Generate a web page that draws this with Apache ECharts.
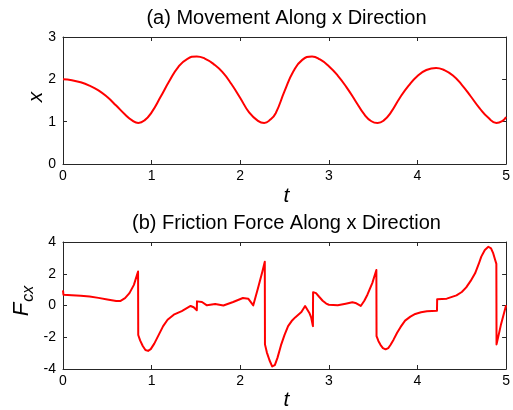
<!DOCTYPE html>
<html><head><meta charset="utf-8">
<script src="https://cdn.jsdelivr.net/npm/echarts@6/dist/echarts.min.js"></script>
<style>html,body{margin:0;padding:0;background:#fff}#c{width:513px;height:410px}</style>
</head><body><div id="c"></div>
<script>
// (a) displacement x vs time
const tTop = [0, 0.1, 0.2, 0.3, 0.4, 0.5, 0.6, 0.7, 0.78, 0.85, 0.92, 1.0, 1.1, 1.2, 1.3, 1.4, 1.51, 1.6, 1.7, 1.8, 1.9, 2.0, 2.1, 2.2, 2.27, 2.34, 2.4, 2.5, 2.6, 2.7, 2.81, 2.9, 3.0, 3.1, 3.2, 3.3, 3.4, 3.48, 3.55, 3.62, 3.7, 3.8, 3.9, 4.0, 4.1, 4.21, 4.3, 4.4, 4.5, 4.6, 4.7, 4.8, 4.89, 4.96, 5.0];
const xTop = [2.00, 1.98, 1.93, 1.85, 1.74, 1.58, 1.38, 1.17, 1.03, 0.97, 1.03, 1.22, 1.58, 1.96, 2.29, 2.48, 2.54, 2.49, 2.36, 2.17, 1.89, 1.56, 1.22, 1.02, 0.97, 1.05, 1.20, 1.72, 2.19, 2.46, 2.54, 2.47, 2.31, 2.09, 1.81, 1.49, 1.17, 1.01, 0.97, 1.03, 1.22, 1.56, 1.85, 2.08, 2.22, 2.27, 2.22, 2.09, 1.87, 1.60, 1.32, 1.09, 0.97, 1.02, 1.11];
// (b) friction force Fcx vs time
const tBot = [0, 0.005, 0.1, 0.2, 0.3, 0.4, 0.5, 0.6, 0.65, 0.7, 0.75, 0.8, 0.847, 0.849, 0.87, 0.9, 0.93, 0.96, 0.99, 1.03, 1.08, 1.13, 1.18, 1.25, 1.34, 1.44, 1.475, 1.51, 1.512, 1.568, 1.624, 1.717, 1.81, 1.92, 2.03, 2.09, 2.147, 2.2, 2.25, 2.277, 2.279, 2.30, 2.33, 2.36, 2.39, 2.42, 2.46, 2.50, 2.54, 2.58, 2.62, 2.69, 2.732, 2.78, 2.80, 2.82, 2.822, 2.855, 2.89, 2.93, 2.97, 3.0, 3.10, 3.19, 3.265, 3.30, 3.36, 3.40, 3.435, 3.49, 3.536, 3.538, 3.56, 3.584, 3.61, 3.64, 3.67, 3.695, 3.73, 3.77, 3.81, 3.86, 3.92, 3.975, 4.04, 4.106, 4.22, 4.222, 4.33, 4.44, 4.50, 4.55, 4.60, 4.65, 4.69, 4.72, 4.76, 4.80, 4.83, 4.855, 4.875, 4.89, 4.892, 4.94, 5.0];
const fBot = [0.95, 0.68, 0.65, 0.61, 0.56, 0.48, 0.38, 0.29, 0.29, 0.46, 0.78, 1.30, 2.14, -1.86, -2.20, -2.55, -2.80, -2.86, -2.75, -2.40, -1.85, -1.30, -0.90, -0.58, -0.35, -0.03, -0.11, -0.30, 0.26, 0.22, 0.01, 0.09, 0.0, 0.22, 0.47, 0.43, 0.01, 1.09, 2.14, 2.76, -2.45, -2.95, -3.45, -3.84, -3.75, -3.30, -2.50, -1.85, -1.30, -0.98, -0.75, -0.41, -0.03, -0.47, -0.75, -1.30, 0.84, 0.78, 0.55, 0.30, 0.12, 0.05, 0.01, 0.11, 0.20, 0.16, -0.03, 0.30, 0.68, 1.41, 2.24, -1.93, -2.25, -2.49, -2.68, -2.76, -2.68, -2.49, -2.15, -1.72, -1.35, -0.95, -0.70, -0.53, -0.43, -0.36, -0.33, 0.39, 0.43, 0.64, 0.85, 1.14, 1.55, 2.03, 2.60, 3.08, 3.50, 3.70, 3.60, 3.28, 2.90, 2.62, -2.45, -1.25, 0.02];

const font = 'Liberation Sans, Arial, Helvetica, sans-serif';
const axisCol = '#262626';
const zip = (a, b) => a.map((v, i) => [v, b[i]]);

function xAx(gi, pos, show) {
  return { type: 'value', gridIndex: gi, position: pos, min: 0, max: 5, interval: 1,
    axisLine: { show: true, onZero: false, lineStyle: { color: axisCol, width: 1 } },
    axisTick: { show: true, inside: true, length: 4, lineStyle: { color: axisCol } },
    axisLabel: { show: show, color: '#000', fontSize: 14, fontFamily: font, margin: 5 },
    splitLine: { show: false } };
}
function yAx(gi, pos, show, min, max, interval) {
  return { type: 'value', gridIndex: gi, position: pos, min: min, max: max, interval: interval,
    axisLine: { show: true, onZero: false, lineStyle: { color: axisCol, width: 1 } },
    axisTick: { show: true, inside: true, length: 4, lineStyle: { color: axisCol } },
    axisLabel: { show: show, color: '#000', fontSize: 14, fontFamily: font, margin: 7 },
    splitLine: { show: false } };
}

const chart = echarts.init(document.getElementById('c'), null, { renderer: 'canvas' });
chart.setOption({
  animation: false,
  backgroundColor: '#fff',
  grid: [
    { left: 63, right: 3, top: 37, height: 127 },
    { left: 63, right: 3, top: 242, height: 127 }
  ],
  xAxis: [xAx(0, 'bottom', true), xAx(0, 'top', false), xAx(1, 'bottom', true), xAx(1, 'top', false)],
  yAxis: [yAx(0, 'left', true, 0, 3, 1), yAx(0, 'right', false, 0, 3, 1),
          yAx(1, 'left', true, -4, 4, 2), yAx(1, 'right', false, -4, 4, 2)],
  series: [
    { type: 'line', xAxisIndex: 0, yAxisIndex: 0, data: zip(tTop, xTop), smooth: 0.5, showSymbol: false,
      lineStyle: { color: '#ff0000', width: 2 } },
    { type: 'line', xAxisIndex: 2, yAxisIndex: 2, data: zip(tBot, fBot), smooth: false, showSymbol: false,
      lineStyle: { color: '#ff0000', width: 2, join: 'round' } }
  ],
  graphic: [
    { type: 'text', style: { text: '(a) Movement Along x Direction', x: 286.5, y: 18, textAlign: 'center', textVerticalAlign: 'middle', font: '20px ' + font, fill: '#000' } },
    { type: 'text', style: { text: '(b) Friction Force Along x Direction', x: 286.5, y: 223, textAlign: 'center', textVerticalAlign: 'middle', font: '20px ' + font, fill: '#000' } },
    { type: 'text', style: { text: 't', x: 286.5, y: 196, textAlign: 'center', textVerticalAlign: 'middle', font: 'italic 21px ' + font, fill: '#000' } },
    { type: 'text', style: { text: 't', x: 286.5, y: 400, textAlign: 'center', textVerticalAlign: 'middle', font: 'italic 21px ' + font, fill: '#000' } },
    { type: 'text', x: 36, y: 97, rotation: Math.PI / 2, style: { text: 'x', x: 0, y: 0, textAlign: 'center', textVerticalAlign: 'middle', font: 'italic 21px ' + font, fill: '#000' } },
    { type: 'text', x: 24, y: 301, rotation: Math.PI / 2,
      style: { text: '{F|F}{s|cx}', x: 0, y: 0, textAlign: 'center', textVerticalAlign: 'middle', fill: '#000',
        rich: { F: { fontSize: 22, fontStyle: 'italic', fontFamily: font, verticalAlign: 'top' },
                s: { fontSize: 16, fontStyle: 'italic', fontFamily: font, verticalAlign: 'bottom', padding: [10, 0, 0, 1] } } } }
  ]
});
</script></body></html>
